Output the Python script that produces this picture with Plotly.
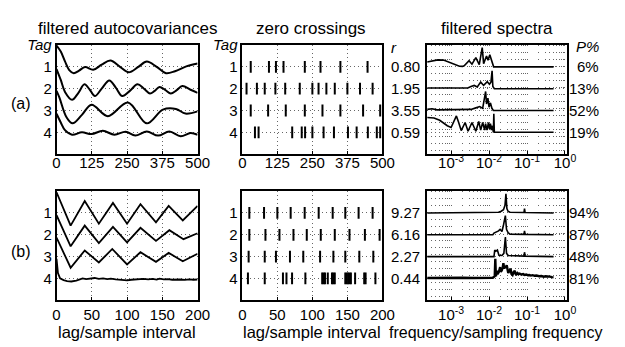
import numpy as np
import plotly.graph_objects as go

W, H = 625, 347
FONT = "Liberation Sans, Arial, Helvetica, sans-serif"

# ---------------- data ----------------
row_ids = [1, 2, 3, 4]
tag_labels_top = ["<i>Tag</i>", "1", "2", "3", "4"]
tag_vals_top = [0, 1, 2, 3, 4]

ticks_a = [0, 125, 250, 375, 500]
ticks_b = [0, 50, 100, 150, 200]
spec_ticks = [1e-3, 1e-2, 1e-1, 1e0]
spec_ticktext = ["10<sup>-3</sup>", "10<sup>-2</sup>", "10<sup>-1</sup>", "10<sup>0</sup>"]

r_a = ["0.80", "1.95", "3.55", "0.59"]
r_b = ["9.27", "6.16", "2.27", "0.44"]
p_a = ["6%", "13%", "52%", "19%"]
p_b = ["94%", "87%", "48%", "81%"]

# filtered autocovariances (a): lag, plotted level (row - acf)
acf_a1_lag = [0, 15, 30, 45, 61, 80, 101, 130, 160, 191, 225, 256, 290, 320, 355, 388, 420, 460, 500]
acf_a1_val = [0.03, 0.3, 0.75, 1.15, 1.29, 1.17, 1.01, 1.13, 0.9, 0.71, 1.0, 1.25, 1.0, 0.76, 1.0, 1.29, 1.2, 0.98, 0.85]
acf_a2_lag = [0, 15, 30, 55, 77, 99, 118, 136, 160, 187, 210, 233, 260, 287, 310, 331, 348, 365, 385, 405, 425, 446, 475, 500]
acf_a2_val = [1.1, 1.6, 2.15, 2.51, 2.2, 1.8, 2.05, 2.34, 2.0, 1.62, 1.95, 2.34, 2.1, 1.8, 2.0, 2.22, 2.1, 1.92, 2.05, 2.22, 2.08, 1.88, 2.05, 2.19]
acf_a3_lag = [0, 10, 35, 57, 90, 124, 182, 253, 320, 377, 423, 457, 500]
acf_a3_val = [2.1, 2.4, 3.3, 3.59, 3.2, 2.74, 3.26, 2.63, 3.59, 2.96, 2.93, 3.14, 3.04]
acf_a4_lag = [0, 15, 30, 55, 90, 124, 164, 205, 245, 279, 320, 360, 400, 440, 475, 500]
acf_a4_val = [3.15, 3.55, 3.9, 4.11, 4.0, 4.08, 3.93, 4.11, 3.97, 4.15, 3.96, 4.15, 3.96, 4.18, 4.03, 4.11]

# filtered autocovariances (b)
acf_b1_lag = [0, 20, 40, 60, 80, 100, 119, 141, 159, 179, 200]
acf_b1_val = [0.05, 1.58, 0.45, 1.49, 0.54, 1.49, 0.6, 1.43, 0.68, 1.34, 0.68]
acf_b2_lag = [0, 20, 40, 60, 80, 100, 119, 141, 160, 180, 200]
acf_b2_val = [1.1, 2.53, 1.58, 2.38, 1.64, 2.35, 1.68, 2.28, 1.79, 2.2, 1.93]
acf_b3_lag = [0, 20, 40, 60, 79, 100, 119, 141, 159, 179, 200]
acf_b3_val = [2.13, 3.51, 2.72, 3.27, 2.65, 3.36, 2.8, 3.24, 2.83, 3.21, 2.87]
acf_b4_lag = [0, 2, 5, 10, 15, 21, 28, 33, 37, 42, 47, 54, 60, 66, 72, 77, 84, 90, 96, 100,
              106, 112, 118, 123, 130, 136, 142, 146, 152, 158, 164, 169, 175, 182, 188, 194, 200]
acf_b4_val = [3.1, 3.75, 4.0, 4.08, 4.12, 4.14, 4.1, 4.04, 4.0, 4.03, 4.0, 3.98, 4.02, 4.0, 4.03, 4.01, 4.04, 4.06, 4.1, 4.09,
              4.06, 4.04, 4.05, 4.02, 4.04, 4.02, 4.05, 4.01, 4.04, 4.03, 4.06, 4.04, 4.05, 4.07, 4.04, 4.06, 4.05]

# zero crossings (lags)
zc_a1 = [30, 95, 120, 147, 223, 279, 350, 447]
zc_a2 = [15, 52, 80, 118, 153, 205, 250, 272, 300, 330, 375, 420, 465]
zc_a3 = [30, 92, 155, 223, 286, 350, 431, 492]
zc_a4 = [45, 58, 178, 212, 224, 250, 290, 327, 377, 408, 448, 480, 492]
zc_b1 = [10, 31, 50, 69, 89, 109, 129, 147, 166, 186]
zc_b2 = [10, 33, 53, 73, 92, 112, 132, 153, 175, 196]
zc_b3 = [9, 32, 48, 68, 87, 111, 130, 147, 167, 187]
zc_b4 = [8, 32, 58, 63, 71, 90, 114, 116, 118, 122, 128, 130, 132, 147, 149, 151, 153, 155, 161, 174, 176, 190]

# filtered spectra: log10(frequency/sampling frequency), relative height above row baseline
sp_a1_lf = [-3.63, -3.5, -3.35, -3.2, -3.05, -2.9, -2.78, -2.7, -2.656, -2.527, -2.45, -2.348, -2.258, -2.18,
            -2.143, -2.066, -2.027, -1.98, -1.938, -1.912, -1.879, -0.3]
sp_a1_h = [0.22, 0.28, 0.32, 0.31, 0.22, 0.1, 0.03, 0.02, 0.05, 0.28, 0.12, 0.42, 0.1, 0.88,
           0.15, 0.5, 0.3, 0.55, 0.3, 0.15, 0.0, 0.0]
sp_a2_lf = [-3.63, -2.99, -2.56, -2.476, -2.39, -2.31, -2.22, -2.143, -2.048, -1.99, -1.95, -1.92, -1.9, -1.86, -0.3]
sp_a2_h = [0.03, 0.02, 0.03, 0.1, 0.15, 0.08, 0.3, 0.15, 0.32, 0.2, 0.3, 0.82, 0.1, 0.0, 0.0]
sp_a3_lf = [-3.63, -3.5, -3.37, -2.73, -2.476, -2.348, -2.245, -2.168, -2.09, -2.066, -2.03, -2.0, -1.963, -1.925, -1.886, -0.3]
sp_a3_h = [0.05, 0.08, 0.03, 0.02, 0.05, 0.12, 0.18, 0.1, 0.87, 0.3, 0.57, 0.15, 0.35, 0.1, 0.0, 0.0]
sp_a4_lf = [-3.63, -3.45, -3.3, -3.1, -3.0, -2.9, -2.86, -2.8, -2.733, -2.63, -2.553, -2.45, -2.348, -2.271, -2.22,
            -2.168, -2.117, -2.092, -2.053, -2.015, -1.989, -1.963, -1.938, -1.912, -1.886, -1.874, -1.861, -0.3]
sp_a4_h = [0.68, 0.66, 0.55, 0.3, 0.22, 0.55, 0.75, 0.45, 0.08, 0.45, 0.05, 0.45, 0.05, 0.5, 0.1,
           0.45, 0.1, 0.4, 0.1, 0.45, 0.15, 0.4, 0.1, 0.3, 0.0, 0.85, 0.0, 0.0]

sp_b1_lf = [-3.63, -2.0, -1.75, -1.68, -1.62, -1.58, -1.555, -1.53, -1.5, -1.45, -1.3, -1.08, -1.066, -1.05, -0.3]
sp_b1_h = [0.0, 0.0, 0.03, 0.08, 0.15, 0.35, 0.88, 0.2, 0.08, 0.03, 0.02, 0.02, 0.2, 0.02, 0.0]
sp_b2_lf = [-3.63, -1.9, -1.87, -1.8, -1.75, -1.71, -1.66, -1.62, -1.57, -1.54, -1.5, -1.45, -1.08, -1.066, -1.05, -0.3]
sp_b2_h = [0.0, 0.0, 0.08, 0.12, 0.18, 0.25, 0.15, 0.45, 0.88, 0.25, 0.1, 0.03, 0.02, 0.18, 0.02, 0.0]
sp_b3_lf = [-3.63, -1.87, -1.85, -1.82, -1.78, -1.74, -1.66, -1.61, -1.57, -1.54, -1.5, -1.08, -1.066, -1.05, -0.3]
sp_b3_h = [0.0, 0.0, 0.3, 0.25, 0.3, 0.06, 0.05, 0.15, 0.9, 0.15, 0.05, 0.02, 0.2, 0.02, 0.0]
sp_b4_lf = [-3.63, -3.3, -3.0, -2.7, -2.4, -2.1, -1.9, -1.85, -1.835, -1.82, -1.79, -1.776, -1.74, -1.707, -1.69,
            -1.663, -1.64, -1.622, -1.6, -1.58, -1.56, -1.535, -1.51, -1.494, -1.46, -1.433, -1.41, -1.382, -1.35,
            -1.322, -1.3, -1.279, -1.25, -1.22, -1.194, -1.15, -1.1, -1.06, -1.022, -0.98, -0.94, -0.9, -0.852,
            -0.8, -0.75, -0.681, -0.62, -0.56, -0.51, -0.45, -0.4, -0.34, -0.3]
sp_b4_h = [0.02, 0.03, 0.02, 0.03, 0.02, 0.03, 0.03, 0.1, 0.9, 0.1, 0.35, 0.2, 0.3, 0.52, 0.3,
           0.38, 0.5, 0.7, 0.45, 0.55, 0.5, 0.6, 0.3, 0.25, 0.35, 0.45, 0.2, 0.15, 0.3,
           0.35, 0.2, 0.18, 0.25, 0.2, 0.22, 0.18, 0.2, 0.16, 0.18, 0.15, 0.16, 0.13, 0.15,
           0.12, 0.13, 0.1, 0.11, 0.08, 0.1, 0.07, 0.08, 0.06, 0.05]

# ---------------- figure ----------------
fig = go.Figure()


def add_line(x, y, ax, shape="linear", width=2):
    fig.add_trace(go.Scatter(x=x, y=y, mode="lines", xaxis="x" + ax, yaxis="y" + ax,
                             line=dict(color="black", width=width, shape=shape),
                             hoverinfo="skip", showlegend=False))


# autocovariances
for lag, val in [(acf_a1_lag, acf_a1_val), (acf_a2_lag, acf_a2_val),
                 (acf_a3_lag, acf_a3_val), (acf_a4_lag, acf_a4_val)]:
    add_line(lag, val, "", shape="spline")
for lag, val in [(acf_b1_lag, acf_b1_val), (acf_b2_lag, acf_b2_val),
                 (acf_b3_lag, acf_b3_val), (acf_b4_lag, acf_b4_val)]:
    add_line(lag, val, "4", width=1.8)


# zero crossings as short vertical ticks
def crossing_xy(lists):
    xs, ys = [], []
    for row, lags in zip(row_ids, lists):
        for t in lags:
            xs += [t, t, None]
            ys += [row - 0.27, row + 0.27, None]
    return xs, ys


xs, ys = crossing_xy([zc_a1, zc_a2, zc_a3, zc_a4])
add_line(xs, ys, "2", width=2)
xs, ys = crossing_xy([zc_b1, zc_b2, zc_b3, zc_b4])
add_line(xs, ys, "5", width=2)

# spectra
for row, lf, h in zip(row_ids, [sp_a1_lf, sp_a2_lf, sp_a3_lf, sp_a4_lf], [sp_a1_h, sp_a2_h, sp_a3_h, sp_a4_h]):
    add_line(list(10 ** np.array(lf)), list(row - np.array(h)), "3", width=1.6)
for row, lf, h in zip(row_ids, [sp_b1_lf, sp_b2_lf, sp_b3_lf, sp_b4_lf], [sp_b1_h, sp_b2_h, sp_b3_h, sp_b4_h]):
    add_line(list(10 ** np.array(lf)), list(row - np.array(h)), "6", width=2.4 if row == 4 else 1.6)

# ---------------- axes ----------------
def xd(a, b):
    return [a / W, b / W]


def yd(top, bot):
    return [1 - bot / H, 1 - top / H]


COLS = [(54, 199), (245, 389), (435, 579)]
ROWS = [(37, 149), (187, 299)]
GRID = dict(showgrid=True, gridcolor="#666", gridwidth=1, griddash="1px,3px")
BOX = dict(showline=True, linecolor="black", linewidth=1.6, mirror=True, zeroline=False)
TF = dict(family=FONT, size=15, color="black")

minor_vals = [m * 10.0 ** e for e in range(-4, 1) for m in range(2, 10)]

layout = dict(width=W, height=H, margin=dict(l=0, r=0, t=0, b=0),
              paper_bgcolor="white", plot_bgcolor="white", showlegend=False,
              font=dict(family=FONT, size=15, color="black"))

for ri, (top, bot) in enumerate(ROWS):
    for ci, (l, r) in enumerate(COLS):
        idx = ri * 3 + ci + 1
        key = "" if idx == 1 else str(idx)
        xa = dict(domain=xd(l, r), anchor="y" + key, ticks="inside", ticklen=3, tickcolor="black",
                  tickfont=TF, ticklabelstandoff=(-6 if ri == 0 else 0), **BOX)
        ya = dict(domain=yd(top, bot), anchor="x" + key, range=[5, 0], ticks="", tickfont=TF,
                  **BOX)
        if ci < 2:
            if ri == 0:
                xa.update(range=[0, 500], tickmode="array", tickvals=ticks_a, **GRID)
                ya.update(tickmode="array", tickvals=tag_vals_top, ticktext=tag_labels_top, **GRID)
            else:
                xa.update(range=[0, 200], tickmode="array", tickvals=ticks_b, **GRID)
                ya.update(tickmode="array", tickvals=row_ids, ticktext=[str(v) for v in row_ids], **GRID)
        else:
            xa.update(type="log", range=[-3.63, 0.06], tickmode="array", tickvals=spec_ticks,
                      ticktext=spec_ticktext, showgrid=True, gridcolor="#666", griddash="1px,6px",
                      minor=dict(tickmode="array", tickvals=minor_vals, showgrid=True,
                                 gridcolor="#666", griddash="1px,6px", ticks=""))
            ya.update(tickmode="array", tickvals=row_ids, showticklabels=False,
                      showgrid=True, gridcolor="#666", griddash="1px,3px")
        layout["xaxis" + key] = xa
        layout["yaxis" + key] = ya

fig.update_layout(**layout)

# ---------------- text ----------------
ann = []


def txt(x, y, s, size=15, xanchor="center", yref="paper", italic=False, yanchor="middle"):
    ann.append(dict(x=x, y=y, xref="paper", yref=yref, text=("<i>%s</i>" % s) if italic else s,
                    showarrow=False, xanchor=xanchor, yanchor=yanchor,
                    font=dict(family=FONT, size=size, color="black")))


txt(127 / W, 1 - 20 / H, "filtered autocovariances", size=17)
txt(316 / W, 1 - 20 / H, "zero crossings", size=17)
txt(507 / W, 1 - 20 / H, "filtered spectra", size=17)
txt(126 / W, 1 - 332 / H, "lag/sample interval", size=16.5)
txt(317 / W, 1 - 332 / H, "lag/sample interval", size=16.5)
txt(505 / W, 1 - 332 / H, "frequency/sampling frequency", size=16)
txt(17 / W, 1 - 97 / H, "(a)", size=16)
txt(17 / W, 1 - 249 / H, "(b)", size=16)

txt(396 / W, 0.1, "r", yref="y2", xanchor="left", italic=True)
txt(614 / W, 0.05, "P%", yref="y3", xanchor="right", italic=True)
for row, rv, pv in zip(row_ids, r_a, p_a):
    txt(396 / W, row, rv, yref="y2", xanchor="left")
    txt(614 / W, row, pv, yref="y3", xanchor="right")
for row, rv, pv in zip(row_ids, r_b, p_b):
    txt(396 / W, row, rv, yref="y5", xanchor="left")
    txt(614 / W, row, pv, yref="y6", xanchor="right")

fig.update_layout(annotations=ann)
fig.write_html("out.html", config={"displayModeBar": False},
               post_script="document.body.style.margin='0px';document.body.style.overflow='hidden';")
